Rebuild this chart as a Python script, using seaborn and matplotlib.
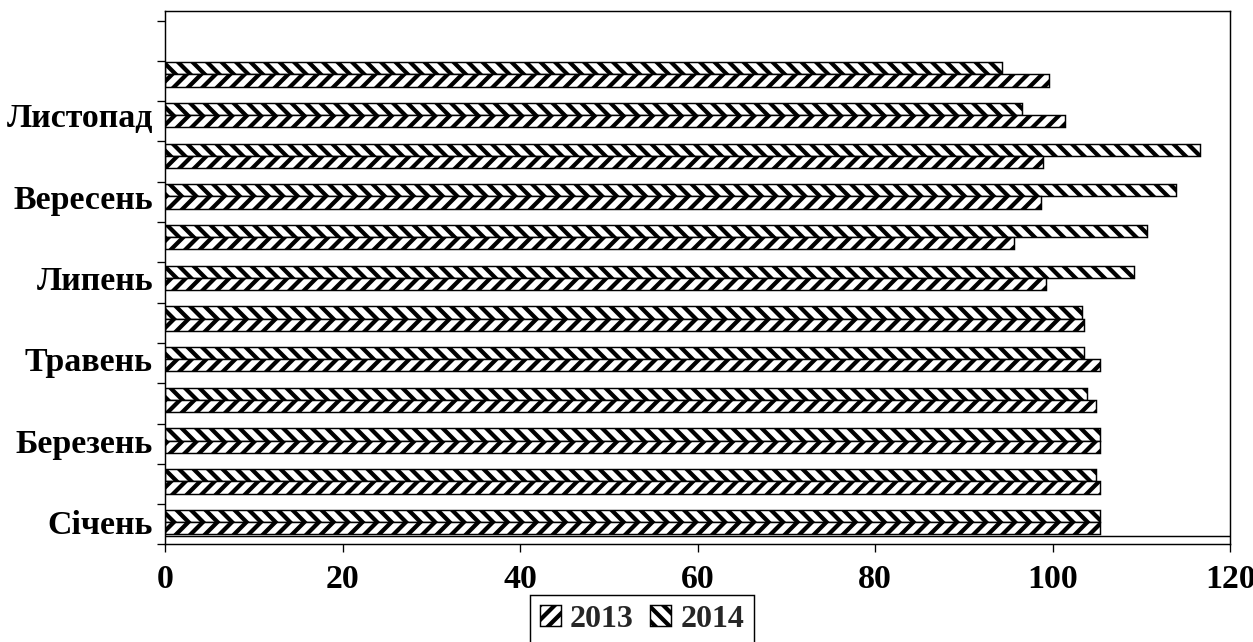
import numpy as np
import pandas as pd
import matplotlib
matplotlib.use("Agg")
import matplotlib.pyplot as plt
import seaborn as sns
from matplotlib.patches import Patch

# ---- data ----
months = ["Січень", "Лютий", "Березень", "Квітень", "Травень", "Червень",
          "Липень", "Серпень", "Вересень", "Жовтень", "Листопад", "Грудень"]
shown_labels = ["Січень", "", "Березень", "", "Травень", "",
                "Липень", "", "Вересень", "", "Листопад", ""]
years = ["2013", "2014"]
v2013 = [105.3, 105.3, 105.3, 104.9, 105.3, 103.5, 99.2, 95.7, 98.7, 98.9, 101.4, 99.6]
v2014 = [105.3, 104.9, 105.3, 103.9, 103.5, 103.3, 109.2, 110.6, 113.9, 116.6, 96.5, 94.3]
x_ticks = [0, 20, 40, 60, 80, 100, 120]

df = pd.DataFrame({
    "month": months * 2,
    "year": [years[0]] * 12 + [years[1]] * 12,
    "value": v2013 + v2014,
})

DPI = 87
W, H = 1253, 642
sns.set_style("ticks")
plt.rcParams["font.family"] = ["Liberation Serif", "DejaVu Serif"]
plt.rcParams["font.weight"] = "bold"
plt.rcParams["hatch.linewidth"] = 3.5
plt.rcParams["axes.edgecolor"] = "black"

fig = plt.figure(figsize=((W + 0.2) / DPI, (H + 0.2) / DPI), dpi=DPI)
ax = fig.add_axes([165 / W, 1 - 544.5 / H, (1230 - 165) / W, (544.5 - 11) / H])

hatches = {"2013": "//", "2014": "\\\\"}
sns.barplot(data=df, y="month", x="value", hue="year",
            order=months[::-1], hue_order=["2014", "2013"],
            palette={"2013": "white", "2014": "white"},
            edgecolor="black", linewidth=1.2, width=0.6, orient="h",
            errorbar=None, legend=False, saturation=1, ax=ax)

for cont, yr in zip(ax.containers, ["2014", "2013"]):
    for bar in cont:
        bar.set_hatch(hatches[yr])
        bar.set_hatch_linewidth(3.5) if hasattr(bar, "set_hatch_linewidth") else None

FS = 28
ax.set_xlim(0, 120)
ax.set_xticks(x_ticks)
ax.set_xticklabels([str(t) for t in x_ticks], fontsize=FS, fontweight="bold")
ax.set_ylim(11.55, -1.56)
ax.set_yticks(range(12))
ax.set_yticklabels(shown_labels[::-1], fontsize=FS, fontweight="bold")
ax.set_yticks(11.55 - 0.99 * np.arange(14), minor=True)
ax.tick_params(axis="y", which="major", length=0, pad=10)
ax.tick_params(axis="y", which="minor", length=6.6, width=1.1, direction="out",
               left=True, color="black")
ax.tick_params(axis="x", which="major", length=7, width=1.1, direction="out",
               bottom=True, color="black", pad=9, labelcolor="black")
ax.tick_params(axis="y", labelcolor="black")
ax.set_xlabel("")
ax.set_ylabel("")
for s in ax.spines.values():
    s.set_visible(True)
    s.set_linewidth(1.2)
    s.set_color("black")
ax.axhline(11.35, color="black", lw=1.2)

handles = [Patch(facecolor="white", edgecolor="black", hatch=hatches[y], label=y, linewidth=1.2)
           for y in years]
leg = fig.legend(handles=handles, loc="upper left",
                 bbox_to_anchor=(530 / W, 1 - 595 / H), ncol=2,
                 frameon=True, fancybox=False, edgecolor="black", framealpha=1,
                 prop={"family": ["Liberation Serif"], "weight": "bold", "size": 26.5},
                 handlelength=0.65, handleheight=0.65, handletextpad=0.3,
                 columnspacing=0.5, borderpad=0.3, borderaxespad=0)
leg.get_frame().set_linewidth(1.2)

fig.savefig("out.png", dpi=DPI)
